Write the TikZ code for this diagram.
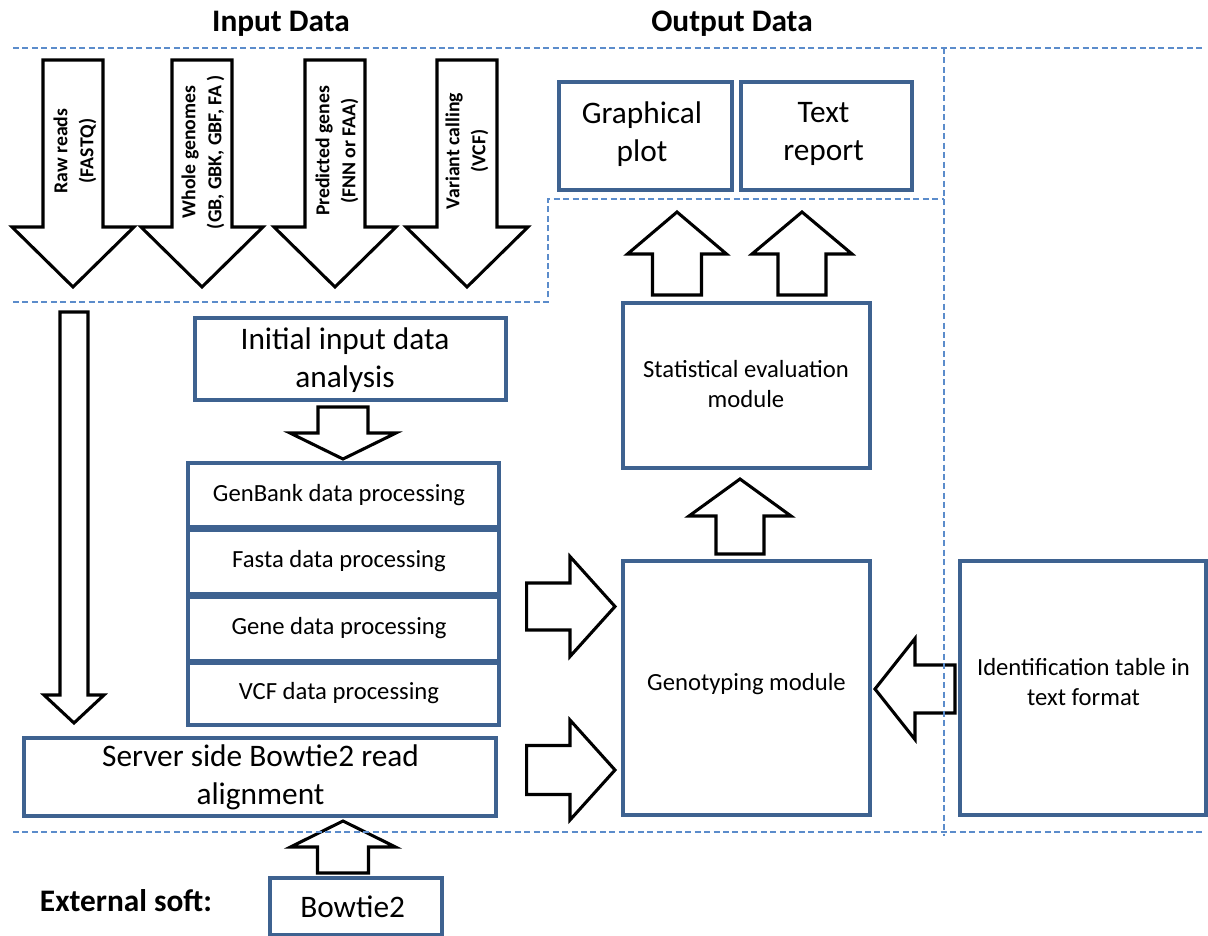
\documentclass[tikz,border=0pt]{standalone}
\usepackage{fontspec}
\setmainfont{Carlito}
\usetikzlibrary{fit}

\definecolor{boxblue}{HTML}{3E6290}
\definecolor{dashblue}{HTML}{5B8CCB}

\tikzset{
  box/.style={draw=boxblue, line width=2.3pt, inner sep=0pt, fill=white},
  txt/.style={align=center, inner sep=0pt},
  barrow/.style={draw=black, line width=2.3pt, fill=white, line join=miter},
  divider/.style={draw=dashblue, line width=1.1pt, dash pattern=on 4.5pt off 2.6pt},
  big/.style={txt, font=\fontsize{23.5}{28.5}\selectfont},
  mid/.style={txt, font=\fontsize{18.5}{22.5}\selectfont},
  heading/.style={font=\bfseries\fontsize{23.5}{28}\selectfont},
  lab/.style={font=\bfseries\fontsize{14.8}{19.5}\selectfont, align=center, rotate=90},
}

% vertical block arrow: centre x, tail y, head-base y, tip y, shaft half-width, head half-width
\newcommand\varrowshape[6]{%
  \draw[barrow] ({#1-#5},#2) -- ({#1+#5},#2) -- ({#1+#5},#3) -- ({#1+#6},#3)
    -- (#1,#4) -- ({#1-#6},#3) -- ({#1-#5},#3) -- cycle;}
% horizontal block arrow: centre y, tail x, head-base x, tip x, shaft half-width, head half-width
\newcommand\harrowshape[6]{%
  \draw[barrow] (#2,{#1-#5}) -- (#2,{#1+#5}) -- (#3,{#1+#5}) -- (#3,{#1+#6})
    -- (#4,#1) -- (#3,{#1-#6}) -- (#3,{#1-#5}) -- cycle;}

\begin{document}
\begin{tikzpicture}[x=0.75pt, y=-0.75pt]
\useasboundingbox (0,0) rectangle (1208,936);

% headings
\node[heading] (inhead) at (281,24) {Input Data};
\node[heading] (outhead) at (732,24) {Output Data};
\node[heading] (ext) at (126,901) {External soft:};

% input arrows with their labels
\varrowshape{73}{60}{227}{287}{30}{61}
\varrowshape{202}{60}{227}{287}{30}{61}
\varrowshape{335}{60}{227}{287}{30}{61}
\varrowshape{467}{60}{227}{287}{30}{61}
\node[lab] (raw) at (75,151) {Raw reads\\(FASTQ)};
\node[lab] (whole) at (203,152) {Whole genomes\\(GB, GBK, GBF, FA )};
\node[lab] (pred) at (337,151) {Predicted genes\\(FNN or FAA)};
\node[lab] (var) at (467,151) {Variant calling\\(VCF)};

% output boxes
\node[box, fit={(559,82) (732,190)}] (graph) {};
\node[box, fit={(741,82) (912,190)}] (report) {};
\node[big] (graph-t) at (642,134) {Graphical\\plot};
\node[big] (report-t) at (823.5,134) {Text\\report};

% modules
\node[box, fit={(623,303) (870,468)}] (stat) {};
\node[box, fit={(623,561) (870,815)}] (geno) {};
\node[box, fit={(960,561) (1206,815)}] (ident) {};
\node[mid] (stat-t) at (746,384) {Statistical evaluation\\module};
\node[mid] (geno-t) at (746.5,684) {Genotyping module};
\node[mid] (ident-t) at (1083.5,682.5) {Identification table in\\text format};

% processing chain
\node[box, fit={(195,318) (506,400)}] (init) {};
\node[box, fit={(188,463) (499,527)}] (genbank) {};
\node[box, fit={(188,530) (499,594)}] (fasta) {};
\node[box, fit={(188,597) (499,661)}] (gene) {};
\node[box, fit={(188,663) (499,725)}] (vcf) {};
\node[box, fit={(24,738) (496,816)}] (server) {};
\node[box, fit={(270,878) (442,935)}] (bowtie) {};
\node[big] (init-t) at (345,360) {Initial input data\\analysis};
\node[mid] (genbank-t) at (339,495) {GenBank data processing};
\node[mid] (fasta-t) at (339,561.5) {Fasta data processing};
\node[mid] (gene-t) at (339,628) {Gene data processing};
\node[mid] (vcf-t) at (339,693.5) {VCF data processing};
\node[big] (server-t) at (260.5,777.5) {Server side Bowtie2 read\\alignment};
\node[big] (bowtie-t) at (352.7,907) {Bowtie2};

% block arrows between the stages
\varrowshape{74}{312}{695}{723}{14}{30}
\varrowshape{343}{407}{433}{459}{25}{53}
\varrowshape{343}{873}{847}{821}{25.5}{52.5}
\varrowshape{677}{295}{254}{212}{24.5}{49.5}
\varrowshape{802}{295}{254}{212}{24}{50}
\varrowshape{740}{554}{516}{479}{24}{51}
\harrowshape{606.5}{526.7}{570}{615}{23.5}{50}
\harrowshape{770}{526.7}{570}{615}{24.5}{50}
\harrowshape{689}{955}{915}{875}{24}{50.5}

% dashed region dividers
\draw[divider] (13,48) -- (1205,48);
\draw[divider] (13,832) -- (1205,832);
\draw[divider] (944,48) -- (944,836);
\draw[divider] (13,302) -- (548,302) -- (548,199) -- (944,199);
\end{tikzpicture}
\end{document}
